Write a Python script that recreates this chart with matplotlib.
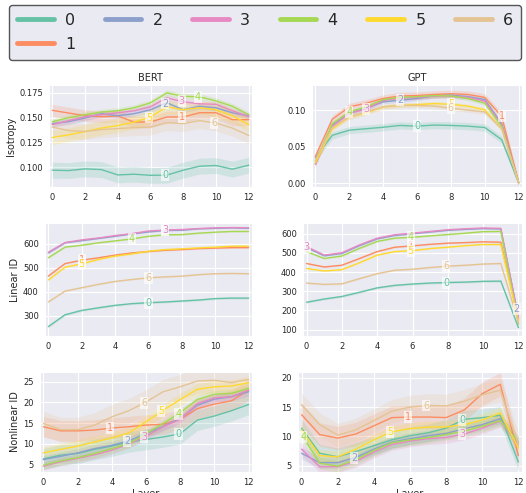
import numpy as np
import matplotlib
matplotlib.use("Agg")
import matplotlib.pyplot as plt
import seaborn as sns

sns.set_style("darkgrid")
plt.rcParams['font.family'] = ['DejaVu Sans']

layers = list(range(13))
groups = ['0', '1', '2', '3', '4', '5', '6']
colors = sns.color_palette("Set2", 7)

# BERT isotropy (groups 0..6)
bert_iso = [
    [0.097, 0.0966, 0.0983, 0.0976, 0.0922, 0.0929, 0.0918, 0.092, 0.097, 0.101, 0.1017, 0.098, 0.102],
    [0.1574, 0.1547, 0.152, 0.151, 0.1517, 0.1456, 0.1456, 0.1507, 0.1507, 0.155, 0.155, 0.148, 0.148],
    [0.144, 0.146, 0.1497, 0.154, 0.152, 0.154, 0.158, 0.165, 0.158, 0.1615, 0.160, 0.155, 0.1517],
    [0.143, 0.147, 0.151, 0.153, 0.155, 0.157, 0.161, 0.170, 0.166, 0.164, 0.1635, 0.157, 0.151],
    [0.146, 0.150, 0.153, 0.1557, 0.157, 0.160, 0.165, 0.175, 0.1716, 0.171, 0.167, 0.1615, 0.153],
    [0.130, 0.1327, 0.136, 0.1395, 0.142, 0.1455, 0.1507, 0.161, 0.158, 0.160, 0.158, 0.152, 0.143],
    [0.1405, 0.137, 0.136, 0.138, 0.139, 0.140, 0.1405, 0.145, 0.144, 0.147, 0.1446, 0.1395, 0.132],
]
bert_iso_err = [0.008, 0.006, 0.003, 0.003, 0.003, 0.007, 0.008]

gpt_iso = [
    [0.0356, 0.066, 0.073, 0.075, 0.077, 0.0795, 0.0785, 0.080, 0.0795, 0.0785, 0.0767, 0.060, 0.001],
    [0.037, 0.088, 0.105, 0.110, 0.1165, 0.120, 0.1205, 0.122, 0.123, 0.122, 0.118, 0.092, 0.001],
    [0.027, 0.080, 0.097, 0.103, 0.112, 0.114, 0.1165, 0.120, 0.121, 0.119, 0.115, 0.082, 0.001],
    [0.026, 0.078, 0.096, 0.102, 0.114, 0.117, 0.118, 0.120, 0.120, 0.118, 0.113, 0.080, 0.001],
    [0.030, 0.082, 0.098, 0.105, 0.115, 0.118, 0.119, 0.1205, 0.120, 0.1165, 0.110, 0.078, 0.001],
    [0.028, 0.075, 0.091, 0.097, 0.105, 0.107, 0.108, 0.1095, 0.1085, 0.106, 0.101, 0.075, 0.001],
    [0.032, 0.0767, 0.091, 0.098, 0.105, 0.107, 0.107, 0.106, 0.103, 0.1005, 0.098, 0.075, 0.001],
]
gpt_iso_err = [0.005, 0.005, 0.003, 0.003, 0.003, 0.003, 0.003]

bert_lin = [
    [256, 305, 323, 334, 344, 351, 355, 358, 362, 366, 372, 374, 374],
    [465, 517, 531, 541, 552, 561, 567, 572, 575, 579, 581, 583, 583],
    [561, 603, 612, 621, 630, 640, 648, 654, 655, 661, 663, 665, 663],
    [564, 604, 615, 623, 633, 641, 652, 656, 658, 662, 665, 666, 665],
    [541, 585, 593, 603, 611, 619, 630, 636, 637, 643, 647, 650, 650],
    [449, 502, 516, 534, 548, 557, 568, 575, 578, 582, 585, 589, 589],
    [358, 403, 417, 431, 443, 451, 458, 462, 465, 471, 475, 476, 475],
]
bert_lin_err = [4, 3, 3, 3, 3, 3, 3]

gpt_lin = [
    [243, 260, 273, 295, 318, 331, 338, 343, 346, 348, 352, 353, 110],
    [445, 427, 436, 471, 507, 530, 537, 545, 551, 554, 558, 556, 155],
    [528, 485, 497, 538, 573, 591, 600, 609, 618, 623, 627, 625, 163],
    [533, 489, 501, 542, 577, 595, 603, 612, 621, 626, 630, 628, 160],
    [507, 471, 484, 524, 560, 577, 582, 589, 596, 603, 611, 612, 128],
    [419, 406, 413, 449, 489, 507, 512, 523, 530, 538, 544, 544, 146],
    [343, 336, 339, 366, 392, 410, 415, 424, 431, 436, 442, 445, 137],
]
gpt_lin_err = [5, 4, 4, 4, 4, 4, 4]

bert_nonlin = [
    [6.3, 7.2, 7.6, 8.6, 9.4, 10.4, 11.0, 11.6, 12.4, 15.7, 16.7, 18.0, 19.5],
    [14.1, 13.1, 13.1, 13.3, 13.8, 14.1, 14.5, 14.7, 15.9, 18.5, 19.6, 20.4, 23.0],
    [6.1, 6.9, 7.75, 8.8, 9.6, 10.7, 12.4, 14.2, 16.1, 19.3, 20.8, 21.4, 22.6],
    [4.5, 5.6, 6.4, 7.3, 8.4, 9.9, 11.8, 14.1, 15.9, 19.7, 21.1, 21.4, 23.0],
    [4.75, 5.8, 6.6, 7.6, 8.8, 10.0, 12.4, 14.9, 17.5, 20.7, 22.0, 22.2, 23.4],
    [7.75, 8.6, 9.4, 10.4, 11.4, 12.6, 15.3, 18.1, 20.7, 23.2, 23.8, 24.0, 24.8],
    [14.9, 13.4, 13.4, 14.5, 16.5, 18.0, 20.1, 22.6, 23.8, 25.2, 25.4, 24.8, 25.6],
]
bert_nonlin_err = [2.5, 2.5, 1.0, 1.0, 1.0, 1.5, 3.0]

gpt_nonlin = [
    [11.4, 7.1, 6.5, 7.4, 8.4, 9.4, 10.1, 10.6, 11.4, 12.9, 13.2, 13.6, 5.6],
    [13.7, 10.3, 9.7, 10.4, 11.8, 13.2, 13.3, 13.3, 13.2, 14.5, 17.3, 18.9, 6.7],
    [7.1, 5.5, 5.5, 6.4, 7.8, 9.0, 9.6, 10.1, 10.5, 11.3, 12.0, 13.0, 9.0],
    [7.8, 4.8, 4.8, 5.7, 7.3, 8.6, 9.2, 9.6, 9.8, 10.4, 11.4, 12.6, 8.7],
    [10.3, 5.4, 4.9, 6.0, 7.6, 8.9, 9.4, 9.8, 10.3, 10.9, 11.7, 12.7, 9.0],
    [11.1, 6.7, 6.5, 7.8, 9.4, 10.8, 11.3, 11.6, 11.6, 12.0, 12.8, 14.0, 8.0],
    [15.4, 12.0, 10.2, 11.1, 12.7, 14.3, 15.0, 15.3, 15.2, 16.0, 17.1, 17.9, 8.7],
]
gpt_nonlin_err = [1.5, 2.0, 1.0, 1.0, 1.0, 1.0, 2.0]

# where the inline labels sit (layer), per group
bert_iso_lab = [6.9, 7.9, 6.9, 7.9, 8.9, 5.9, 9.9]
gpt_iso_lab = [6.0, 11.0, 5.0, 3.0, 2.0, 8.0, 8.0]
bert_lin_lab = [6.0, 2.0, 7.0, 7.0, 5.0, 2.0, 6.0]
gpt_lin_lab = [7.9, 5.9, 11.9, 0.0, 5.9, 5.9, 7.9]
bert_nonlin_lab = [7.9, 3.9, 4.9, 5.9, 7.9, 6.9, 5.9]
gpt_nonlin_lab = [8.9, 5.9, 2.9, 8.9, 0.1, 4.9, 6.9]

panels = [
    (bert_iso, bert_iso_err, bert_iso_lab, 'BERT', 'Isotropy', (0.080, 0.183), [0.100, 0.125, 0.150, 0.175]),
    (gpt_iso, gpt_iso_err, gpt_iso_lab, 'GPT', '', (-0.005, 0.135), [0.00, 0.05, 0.10]),
    (bert_lin, bert_lin_err, bert_lin_lab, '', 'Linear ID', (217, 685), [300, 400, 500, 600]),
    (gpt_lin, gpt_lin_err, gpt_lin_lab, '', '', (67, 656), [100, 200, 300, 400, 500, 600]),
    (bert_nonlin, bert_nonlin_err, bert_nonlin_lab, '', 'Nonlinear ID', (3.1, 27.4), [5, 10, 15, 20, 25]),
    (gpt_nonlin, gpt_nonlin_err, gpt_nonlin_lab, '', '', (3.9, 21.0), [5, 10, 15, 20]),
]

# axes boxes in pixels: left, right, top, bottom
boxes = [
    (49, 252, 85, 187), (312, 522, 85, 187),
    (45, 252, 223, 336), (303, 522, 223, 336),
    (40, 252, 372, 472), (298, 522, 372, 472),
]

W, H = 526, 493
fig = plt.figure(figsize=(W / 100, H / 100), dpi=100)

for i, (vals, errs, labx, title, ylab, ylim, yticks) in enumerate(panels):
    l, r, t, b = boxes[i]
    ax = fig.add_axes([l / W, 1 - b / H, (r - l) / W, (b - t) / H])
    for g in range(7):
        y = np.array(vals[g])
        ax.fill_between(layers, y - errs[g], y + errs[g], color=colors[g], alpha=0.2, lw=0)
        ax.plot(layers, y, color=colors[g], lw=1.0, label=groups[g])
    for g in range(7):
        yl = np.interp(labx[g], layers, vals[g])
        ax.text(labx[g], yl, groups[g], color=colors[g], fontsize=7, ha='center', va='center',
                bbox=dict(boxstyle='square,pad=0.1', fc='white', ec='none', alpha=0.65))
    ax.set_xlim(-0.2, 12.2)
    ax.set_ylim(*ylim)
    ax.set_xticks([0, 2, 4, 6, 8, 10, 12])
    ax.set_yticks(yticks)
    ax.tick_params(labelsize=6, pad=1)
    if title:
        ax.set_title(title, fontsize=7, pad=3)
    if ylab:
        ax.set_ylabel(ylab, fontsize=7, labelpad=2)
    if i >= 4:
        ax.set_xlabel('Layer', fontsize=7, labelpad=1)
    if i == 0:
        handles, labels = ax.get_legend_handles_labels()

leg = fig.legend(handles, labels, loc='upper left', bbox_to_anchor=(9 / W, 1 - 5 / H),
                 ncol=6, fontsize=11.5, handlelength=2.3, handletextpad=0.7,
                 columnspacing=1.85, labelspacing=0.55, borderpad=0.5, borderaxespad=0,
                 fancybox=True, framealpha=1, facecolor='#eaeaf2', edgecolor='#555555')
for h in leg.legend_handles:
    h.set_linewidth(3.5)

fig.savefig('out.png', dpi=100)
